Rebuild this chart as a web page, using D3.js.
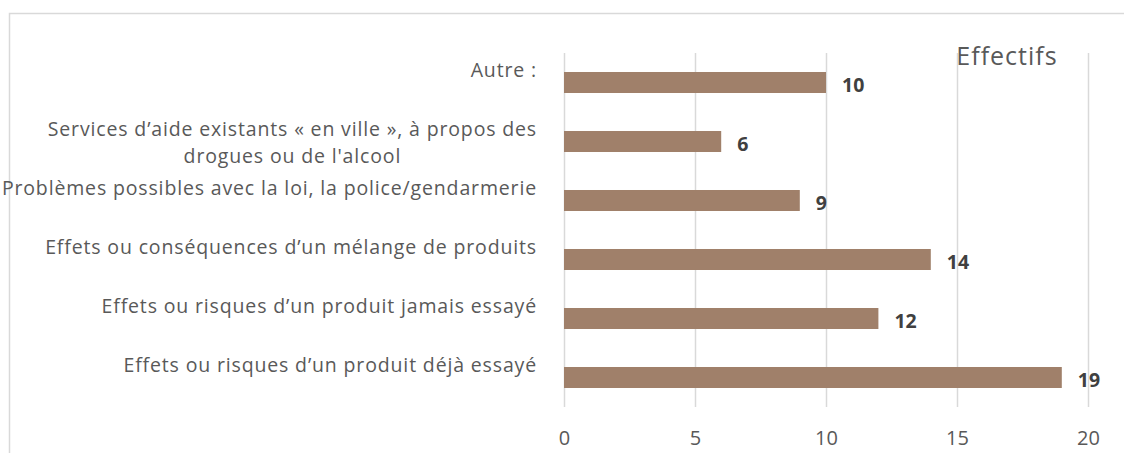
<!DOCTYPE html>
<html lang="fr">
<head>
<meta charset="UTF-8">
<title>Effectifs</title>
<script src="https://d3js.org/d3.v7.min.js"></script>
<style>
  body { margin: 0; background: #fff; font-family: "Open Sans", sans-serif; }
  .grid line { stroke: #d9d9d9; stroke-width: 1.5; }
  .grid path { display: none; }
  .grid text { fill: #595959; font-size: 20px; font-family: "Open Sans", sans-serif; }
  .cat { fill: #595959; font-size: 19.5px; letter-spacing: 0.85px; }
  .val { fill: #404040; font-size: 19.5px; font-weight: bold; }
</style>
</head>
<body>
<div id="chart"></div>
<script>
// categories top -> bottom, "\n" marks the wrap
const categories = [
  "Autre :",
  "Services d\u2019aide existants \u00ab en ville \u00bb, \u00e0 propos des\ndrogues ou de l'alcool",
  "Probl\u00e8mes possibles avec la loi, la police/gendarmerie",
  "Effets ou cons\u00e9quences d\u2019un m\u00e9lange de produits",
  "Effets ou risques d\u2019un produit jamais essay\u00e9",
  "Effets ou risques d\u2019un produit d\u00e9j\u00e0 essay\u00e9"
];
const values = [10, 6, 9, 14, 12, 19];
const xTicks = [0, 5, 10, 15, 20];
const title = "Effectifs";

const W = 1124, H = 453;
const margin = {top: 53, right: 36, bottom: 46, left: 564};
const width = W - margin.left - margin.right,
      height = H - margin.top - margin.bottom;

const svg = d3.select("#chart").append("svg")
  .attr("width", W)
  .attr("height", H);

// outer frame (only top and left visible)
svg.append("rect")
  .attr("x", 9.5).attr("y", 13.5)
  .attr("width", W + 20).attr("height", H + 20)
  .attr("fill", "none")
  .attr("stroke", "#d9d9d9")
  .attr("stroke-width", 1.5);

const g = svg.append("g")
  .attr("transform", `translate(${margin.left},${margin.top})`);

const x = d3.scaleLinear().domain([0, 20]).range([0, width]);
const y = d3.scaleBand()
  .domain(categories)
  .range([0, height])
  .paddingInner(0.644)
  .paddingOuter(0.322);

// grid + tick labels
g.append("g")
  .attr("class", "grid")
  .attr("transform", `translate(0,${height})`)
  .call(d3.axisBottom(x).tickValues(xTicks).tickSize(-height).tickPadding(24));

// bars
g.selectAll("rect.bar")
  .data(values)
  .join("rect")
  .attr("class", "bar")
  .attr("x", x(0))
  .attr("y", (d, i) => y(categories[i]))
  .attr("width", d => x(d) - x(0))
  .attr("height", y.bandwidth())
  .attr("fill", "#a0806a");

// value labels
g.selectAll("text.val")
  .data(values)
  .join("text")
  .attr("class", "val")
  .attr("x", d => x(d) + 16)
  .attr("y", (d, i) => y(categories[i]) + y.bandwidth() / 2 + 2)
  .attr("dominant-baseline", "central")
  .text(d => d);

// category labels: lines centred on each other, block right aligned
const lineH = 27;
categories.forEach((c, i) => {
  const lines = c.split("\n");
  const cy = y(c) + y.bandwidth() / 2;
  const t = g.append("text").attr("class", "cat");
  const spans = lines.map((l, k) => t.append("tspan")
    .attr("y", cy - lineH / 2 + k * lineH)
    .attr("dominant-baseline", "central")
    .attr("text-anchor", "middle")
    .text(l));
  const wmax = d3.max(spans, s => s.node().getComputedTextLength());
  spans.forEach(s => s.attr("x", -27 - wmax / 2));
});

// title
svg.append("text")
  .attr("x", 1007)
  .attr("y", 55)
  .attr("text-anchor", "middle")
  .attr("dominant-baseline", "central")
  .attr("fill", "#595959")
  .style("font-size", "25px")
  .style("letter-spacing", "1px")
  .text(title);
</script>
</body>
</html>
